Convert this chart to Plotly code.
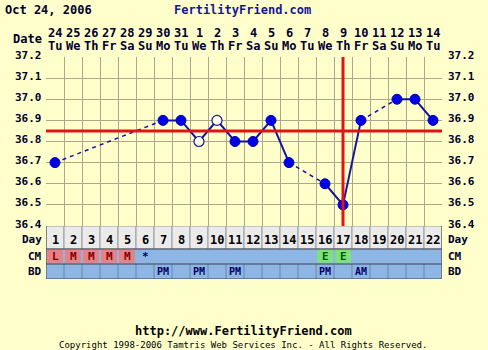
import plotly.graph_objects as go

# ---------------- data ----------------
days = list(range(1, 23))
dates = ["24", "25", "26", "27", "28", "29", "30", "31", "1", "2", "3",
         "4", "5", "6", "7", "8", "9", "10", "11", "12", "13", "14"]
weekdays = ["Tu", "We", "Th", "Fr", "Sa", "Su", "Mo", "Tu", "We", "Th", "Fr",
            "Sa", "Su", "Mo", "Tu", "We", "Th", "Fr", "Sa", "Su", "Mo", "Tu"]
temps = [36.7, None, None, None, None, None, 36.9, 36.9, 36.8, 36.9, 36.8,
         36.8, 36.9, 36.7, None, 36.6, 36.5, 36.9, None, 37.0, 37.0, 36.9]
open_days = [9, 10]          # discarded / open-circle temps
cm = ["L", "M", "M", "M", "M", "*", "", "", "", "", "", "", "", "", "",
      "E", "E", "", "", "", "", ""]
bd = ["", "", "", "", "", "", "PM", "", "PM", "", "PM", "", "", "", "",
      "PM", "", "AM", "", "", "", ""]
y_ticks = [36.4, 36.5, 36.6, 36.7, 36.8, 36.9, 37.0, 37.1, 37.2]
coverline = 36.85
ovulation_day = 17
title_date = "Oct 24, 2006"

# ---------------- layout helpers ----------------
W, H = 488, 350
PL, PR, PT, PB = 46, 442, 57, 279
PW, PH = PR - PL, PB - PT
TABLE_H = 53


def px_x(px):
    return (px - PL) / PW


def px_y(py):
    return (PB - py) / PH


BG = "#ffffcc"
GRID = "#aaa98c"
TXT = "#00002a"
NAVY = "#14149a"
RED = "#e01414"
FONT = "DejaVu Sans Mono"

fig = go.Figure()

# solid segments (consecutive days)
sx, sy = [], []
for i in range(len(days)):
    if temps[i] is None:
        sx.append(None); sy.append(None)
    else:
        sx.append(days[i]); sy.append(temps[i])
fig.add_trace(go.Scatter(x=sx, y=sy, mode="lines", connectgaps=False,
                         line=dict(color=NAVY, width=2), hoverinfo="skip",
                         showlegend=False))

# dashed segments bridging missing days
valid = [(d, t) for d, t in zip(days, temps) if t is not None]
dx, dy = [], []
for (d0, t0), (d1, t1) in zip(valid[:-1], valid[1:]):
    if d1 - d0 > 1:
        dx += [d0, d1, None]
        dy += [t0, t1, None]
fig.add_trace(go.Scatter(x=dx, y=dy, mode="lines",
                         line=dict(color=NAVY, width=1.5, dash="4px,4px"),
                         hoverinfo="skip", showlegend=False))

fx = [d for d, t in valid if d not in open_days]
fy = [t for d, t in valid if d not in open_days]
fig.add_trace(go.Scatter(x=fx, y=fy, mode="markers",
                         marker=dict(size=10, color="#0000e6",
                                     line=dict(color="#0000b0", width=1)),
                         showlegend=False))
ox = [d for d, t in valid if d in open_days]
oy = [t for d, t in valid if d in open_days]
fig.add_trace(go.Scatter(x=ox, y=oy, mode="markers",
                         marker=dict(size=10, color="#ffffee",
                                     line=dict(color=NAVY, width=1.2)),
                         showlegend=False))

# dummy trace for table subplot
fig.add_trace(go.Scatter(x=[None], y=[None], xaxis="x", yaxis="y2",
                         showlegend=False, hoverinfo="skip"))

shapes = []
# coverline and ovulation line
shapes.append(dict(type="line", xref="x", yref="y", x0=0.5, x1=22.5,
                   y0=coverline, y1=coverline, line=dict(color=RED, width=3)))
shapes.append(dict(type="line", xref="x", yref="y", x0=ovulation_day,
                   x1=ovulation_day, y0=y_ticks[0], y1=y_ticks[-1],
                   line=dict(color=RED, width=3)))

# table: Day row
for d in days:
    shapes.append(dict(type="rect", xref="x", yref="y2", x0=d - 0.5, x1=d + 0.5,
                       y0=30, y1=53, fillcolor="#ebebeb",
                       line=dict(color="#9a9a9a", width=1)))
# CM / BD rows background
shapes.append(dict(type="rect", xref="x", yref="y2", x0=0.5, x1=22.5,
                   y0=0, y1=30, fillcolor="#8eb6e4", line=dict(width=0)))
for d in days[:-1]:
    shapes.append(dict(type="line", xref="x", yref="y2", x0=d + 0.5, x1=d + 0.5,
                       y0=0, y1=15, line=dict(color="#6a88ac", width=1)))
cm_colors = {"L": "#e68282", "M": "#e68282", "E": "#7ee07e"}
for d, c in zip(days, cm):
    if c in cm_colors:
        shapes.append(dict(type="rect", xref="x", yref="y2",
                           x0=d - 0.44, x1=d + 0.44, y0=16.2, y1=29,
                           fillcolor=cm_colors[c], line=dict(width=0)))
for yy in [0, 15, 30]:
    shapes.append(dict(type="line", xref="x", yref="y2", x0=0.5, x1=22.5,
                       y0=yy, y1=yy, line=dict(color="#404050", width=1)))
for xx in [0.5, 22.5]:
    shapes.append(dict(type="line", xref="x", yref="y2", x0=xx, x1=xx,
                       y0=0, y1=53, line=dict(color="#404050", width=1)))

ann = []


def txt(x, y, s, size=12, color=TXT, xref="x", yref="paper", xanchor="center",
        bold=True, yshift=0):
    ann.append(dict(x=x, y=y, xref=xref, yref=yref, text=s, showarrow=False,
                    xanchor=xanchor, yanchor="middle", yshift=yshift,
                    font=dict(family=FONT, size=size, color=color,
                              weight="bold" if bold else "normal")))


# header
txt(px_x(3), px_y(10), title_date, 12, TXT, xref="paper", xanchor="left")
txt(px_x(242), px_y(10), "FertilityFriend.com", 12, NAVY, xref="paper")
txt(px_x(44), px_y(39), "Date", 12, TXT, xref="paper", xanchor="right")
for d, dt, wd in zip(days, dates, weekdays):
    txt(d, px_y(33), dt, 12)
    txt(d, px_y(46), wd, 12)

# temperature labels on both sides
for t in y_ticks:
    txt(px_x(44), t, f"{t:.1f}", 11, TXT, xref="paper", yref="y",
        xanchor="right", yshift=2)
    txt(px_x(446), t, f"{t:.1f}", 11, TXT, xref="paper", yref="y",
        xanchor="left", yshift=2)

# table text
txt(px_x(44), 39.5, "Day", 11, TXT, xref="paper", yref="y2", xanchor="right")
txt(px_x(44), 22.5, "CM", 11, TXT, xref="paper", yref="y2", xanchor="right")
txt(px_x(44), 7.5, "BD", 11, TXT, xref="paper", yref="y2", xanchor="right")
txt(px_x(446), 39.5, "Day", 11, TXT, xref="paper", yref="y2", xanchor="left")
txt(px_x(446), 22.5, "CM", 11, TXT, xref="paper", yref="y2", xanchor="left")
txt(px_x(446), 7.5, "BD", 11, TXT, xref="paper", yref="y2", xanchor="left")
cm_text_col = {"L": "#7a0000", "M": "#7a0000", "E": "#005a00", "*": "#000060"}
for d, c, b in zip(days, cm, bd):
    txt(d, 39.5, str(d), 12, "#000000", yref="y2")
    if c:
        txt(d, 22.5, c, 11, cm_text_col[c], yref="y2")
    if b:
        txt(d, 7.5, b, 10, "#000066", yref="y2")

# footer
txt(px_x(243), px_y(331), "http://www.FertilityFriend.com", 12, "#000000",
    xref="paper")
txt(px_x(243), px_y(345),
    "Copyright 1998-2006 Tamtris Web Services Inc. - All Rights Reserved.",
    9, "#000000", xref="paper", bold=False)

fig.update_layout(
    width=W, height=H, autosize=False,
    margin=dict(l=PL, r=W - PR, t=PT, b=H - PB, pad=0),
    paper_bgcolor=BG, plot_bgcolor=BG,
    showlegend=False,
    xaxis=dict(range=[0.5, 22.5], tickvals=[d - 0.5 for d in days] + [22.5],
               showticklabels=False, ticks="", showgrid=True, gridcolor=GRID,
               gridwidth=1, zeroline=False, showline=False, anchor="y2",
               fixedrange=True),
    yaxis=dict(domain=[TABLE_H / PH, 1], range=[y_ticks[0], y_ticks[-1]],
               tickvals=y_ticks, showticklabels=False, ticks="",
               showgrid=True, gridcolor=GRID,
               gridwidth=1, zeroline=False, showline=False, anchor="x",
               fixedrange=True),
    yaxis2=dict(domain=[0, TABLE_H / PH], range=[0, TABLE_H], showgrid=False,
                showticklabels=False, ticks="", zeroline=False,
                showline=False, anchor="x", fixedrange=True),
    shapes=shapes,
    annotations=ann,
)

fig.write_html("out.html")
